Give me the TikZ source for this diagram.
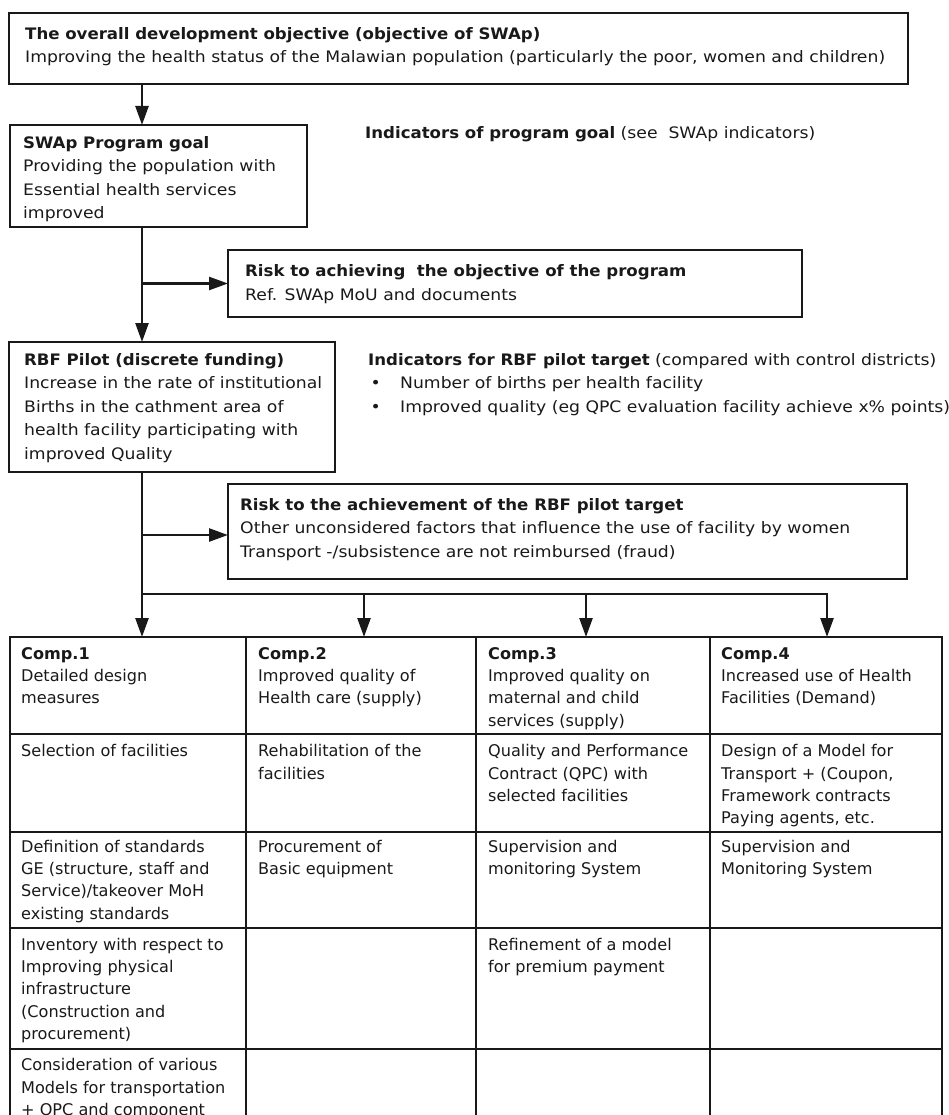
\documentclass[tikz,border=0pt]{standalone}
\usepackage{fontspec}
\setmainfont{DejaVu Sans}
\newfontfamily\topfont{DejaVu Sans}[FakeStretch=1.09, BoldFeatures={FakeStretch=1.05}]
\usetikzlibrary{arrows.meta,calc}
\definecolor{ink}{gray}{0.1}
\definecolor{textc}{gray}{0.1}
\newcommand\mylines[1]{\begin{tabular}[t]{@{}l@{}}#1\end{tabular}}
\tikzset{
  box/.style={draw=ink, line width=2.5pt, rectangle, anchor=north west, inner sep=0pt, outer sep=0pt},
  txt/.style={anchor=base west, inner sep=0pt, text=textc, font=\topfont\fontsize{15.8pt}{23.5pt}\selectfont},
  ttxt/.style={anchor=base west, inner sep=0pt, text=textc, font=\fontsize{16.1pt}{22.4pt}\selectfont},
  conn/.style={draw=ink, line width=2.5pt},
  arr/.style={conn, -{Triangle[length=19pt,width=13pt]}},
}
\begin{document}
\begin{tikzpicture}[x=1pt,y=-1pt]
\useasboundingbox (0,0) rectangle (948,1115);
\clip (0,0) rectangle (948,1115);
% boxes
\node[box, minimum width=899pt, minimum height=71pt] (top) at (9,13) {};
\node[box, minimum width=297pt, minimum height=102pt] (swap) at (10,125) {};
\node[box, minimum width=574pt, minimum height=67pt] (r1) at (228,250) {};
\node[box, minimum width=326pt, minimum height=130pt] (rbf) at (9,342) {};
\node[box, minimum width=679pt, minimum height=95pt] (r2) at (228,484) {};
% texts
\node[txt] (toptext) at (25,39.3) {\mylines{\textbf{The overall development objective (objective of SWAp)}\\Improving the health status of the Malawian population (particularly the poor, women and children)}};
\node[txt] (swaptext) at (23,148.3) {\mylines{\textbf{SWAp Program goal}\\Providing the population with\\Essential health services\\improved}};
\node[txt] (ind1) at (365,139) {\textbf{Indicators of program goal} (see\ \ SWAp indicators)};
\node[txt] (r1text) at (245,276.7) {\mylines{\textbf{Risk to achieving\ \ the objective of the program}\\Ref. SWAp MoU and documents}};
\node[txt] (rbftext) at (24,365) {\mylines{\textbf{RBF Pilot (discrete funding)}\\Increase in the rate of institutional\\Births in the cathment area of\\health facility participating with\\improved Quality}};
\node[txt] (ind2) at (368,365) {\mylines{\textbf{Indicators for RBF pilot target} (compared with control districts)\\\hspace*{2.3pt}\makebox[29.7pt][l]{•}Number of births per health facility\\\hspace*{2.3pt}\makebox[29.7pt][l]{•}Improved quality (eg QPC evaluation facility achieve x\% points)}};
\node[txt] (r2text) at (240,510) {\mylines{\textbf{Risk to the achievement of the RBF pilot target}\\Other unconsidered factors that influence the use of facility by women\\Transport -/subsistence are not reimbursed (fraud)}};
% table cells
\node[box, minimum width=236pt, minimum height=97pt] (c11) at (10,637) {};
\node[box, minimum width=230pt, minimum height=97pt] (c12) at (246,637) {};
\node[box, minimum width=234pt, minimum height=97pt] (c13) at (476,637) {};
\node[box, minimum width=232pt, minimum height=97pt] (c14) at (710,637) {};
\node[box, minimum width=236pt, minimum height=98pt] (c21) at (10,734) {};
\node[box, minimum width=230pt, minimum height=98pt] (c22) at (246,734) {};
\node[box, minimum width=234pt, minimum height=98pt] (c23) at (476,734) {};
\node[box, minimum width=232pt, minimum height=98pt] (c24) at (710,734) {};
\node[box, minimum width=236pt, minimum height=96pt] (c31) at (10,832) {};
\node[box, minimum width=230pt, minimum height=96pt] (c32) at (246,832) {};
\node[box, minimum width=234pt, minimum height=96pt] (c33) at (476,832) {};
\node[box, minimum width=232pt, minimum height=96pt] (c34) at (710,832) {};
\node[box, minimum width=236pt, minimum height=121pt] (c41) at (10,928) {};
\node[box, minimum width=230pt, minimum height=121pt] (c42) at (246,928) {};
\node[box, minimum width=234pt, minimum height=121pt] (c43) at (476,928) {};
\node[box, minimum width=232pt, minimum height=121pt] (c44) at (710,928) {};
\node[box, minimum width=236pt, minimum height=90pt] (c51) at (10,1049) {};
\node[box, minimum width=230pt, minimum height=90pt] (c52) at (246,1049) {};
\node[box, minimum width=234pt, minimum height=90pt] (c53) at (476,1049) {};
\node[box, minimum width=232pt, minimum height=90pt] (c54) at (710,1049) {};
% table texts
\node[ttxt] (t11) at ($(c11.north west)+(11,22)$) {\mylines{\textbf{Comp.1}\\Detailed design\\measures}};
\node[ttxt] (t12) at ($(c12.north west)+(12,22)$) {\mylines{\textbf{Comp.2}\\Improved quality of\\Health care (supply)}};
\node[ttxt] (t13) at ($(c13.north west)+(12,22)$) {\mylines{\textbf{Comp.3}\\Improved quality on\\maternal and child\\services (supply)}};
\node[ttxt] (t14) at ($(c14.north west)+(11,22)$) {\mylines{\textbf{Comp.4}\\Increased use of Health\\Facilities (Demand)}};
\node[ttxt] (t21) at ($(c21.north west)+(11,22.7)$) {\mylines{Selection of facilities}};
\node[ttxt] (t22) at ($(c22.north west)+(12,22.7)$) {\mylines{Rehabilitation of the\\facilities}};
\node[ttxt] (t23) at ($(c23.north west)+(12,22.7)$) {\mylines{Quality and Performance\\Contract (QPC) with\\selected facilities}};
\node[ttxt] (t24) at ($(c24.north west)+(11,22.7)$) {\mylines{Design of a Model for\\Transport + (Coupon,\\Framework contracts\\Paying agents, etc.}};
\node[ttxt] (t31) at ($(c31.north west)+(11,20)$) {\mylines{Definition of standards\\GE (structure, staff and\\Service)/takeover MoH\\existing standards}};
\node[ttxt] (t32) at ($(c32.north west)+(12,20)$) {\mylines{Procurement of\\Basic equipment}};
\node[ttxt] (t33) at ($(c33.north west)+(12,20)$) {\mylines{Supervision and\\monitoring System}};
\node[ttxt] (t34) at ($(c34.north west)+(11,20)$) {\mylines{Supervision and\\Monitoring System}};
\node[ttxt] (t41) at ($(c41.north west)+(11,22)$) {\mylines{Inventory with respect to\\Improving physical\\infrastructure\\(Construction and\\procurement)}};
\node[ttxt] (t43) at ($(c43.north west)+(12,22)$) {\mylines{Refinement of a model\\for premium payment}};
\node[ttxt] (t51) at ($(c51.north west)+(11,21.7)$) {\mylines{Consideration of various\\Models for transportation\\+ QPC and component}};
% connectors
\coordinate (tx) at (142,0);
\coordinate (bus) at (827,594);
\coordinate (a2) at (364,594);
\coordinate (a3) at (586,594);
\coordinate (r2a) at ([yshift=-3.5pt]r2.west);
\draw[arr] (top.south -| tx) -- (swap.north -| tx);
\draw[arr] (swap.south -| tx) -- (rbf.north -| tx);
\draw[arr] (tx |- r1.west) -- (r1.west);
\draw[arr] (rbf.south -| tx) -- (c11.north -| tx);
\draw[arr] (tx |- r2a) -- (r2a);
\draw[arr] (tx |- bus) -- (bus) -- (bus |- c14.north);
\draw[arr] (a2) -- (a2 |- c12.north);
\draw[arr] (a3) -- (a3 |- c13.north);
\end{tikzpicture}
\end{document}
